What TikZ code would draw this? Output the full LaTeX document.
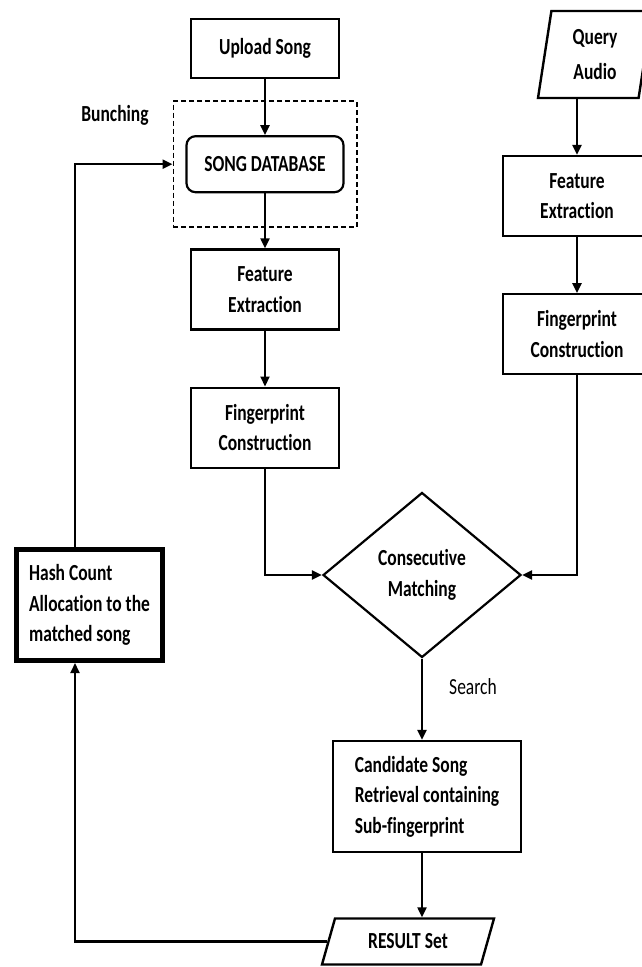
\documentclass[tikz,border=0pt]{standalone}
\usepackage{fontspec}
\setmainfont{Carlito}[FakeStretch=0.76, Ligatures=NoCommon]
\usetikzlibrary{arrows.meta, positioning, shapes.geometric, fit}

\newcommand{\dfont}{\fontsize{23}{30.5}\selectfont}

\begin{document}
\begin{tikzpicture}[x=1pt, y=-1pt, node distance=56pt and 40pt, font=\dfont\bfseries]
  \tikzset{
    pbox/.style={rectangle, draw=black, line width=2.2pt, fill=white,
                 minimum width=148pt, minimum height=80pt,
                 text centered, align=center},
    dbox/.style={rectangle, rounded corners=9pt, draw=black, line width=2.2pt,
                 minimum width=157pt, minimum height=56pt, align=center},
    iobox/.style={trapezium, trapezium stretches body, draw=black, line width=2.4pt,
                  fill=white, align=center, inner sep=2pt},
    hbox/.style={rectangle, draw=black, line width=5pt, fill=white,
                 minimum width=146pt, minimum height=111pt, align=left},
    mdec/.style={diamond, draw=black, line width=2.2pt, aspect=1.2,
                 minimum width=198pt, minimum height=165pt, inner sep=1pt, align=center},
    arr/.style={-{Triangle[length=10pt, width=9pt]}, line width=2.2pt}
  }
  \useasboundingbox (0,0) rectangle (642,967);
  \clip (0,0) rectangle (642,967);
  % Song side
  \node[pbox, minimum height=59pt] (up) at (265,48.5) {Upload Song};
  \node[dbox, below=56pt of up]    (db)  {SONG DATABASE};
  \node[draw=black, line width=1.8pt, dash pattern=on 5pt off 3pt,
        fit=(db), inner xsep=12pt, inner ysep=34pt] (bunch) {};
  \node (bunchlbl) at (115,115) {Bunching};
  \node[pbox, below=55pt of db]    (fe)  {Feature\\Extraction};
  \node[pbox, below=56pt of fe]    (ff)  {Fingerprint\\Construction};
  % Query side
  \node[iobox, trapezium left angle=76, trapezium right angle=104,
        minimum width=114pt, minimum height=87pt] (q) at (595,54.5) {Query\\[4pt]Audio};
  \node[pbox] (fr) at (577,196)    {Feature\\Extraction};
  \node[pbox, below=56pt of fr] (ffr) {Fingerprint\\Construction};
  % Matching and result
  \node[mdec] (match) at (422,575) {Consecutive\\Matching};
  \node[font=\dfont] (srch) at (473,687) {Search};
  \node[pbox, align=left, minimum width=188pt, minimum height=111pt] (cand) at (427,796.5)
       {Candidate Song\\Retrieval containing\\Sub-fingerprint};
  \node[iobox, trapezium left angle=56, trapezium right angle=124,
        minimum width=172pt, minimum height=46pt] (res) at (408,941.5) {RESULT Set};
  \node[hbox] (hash) at (89.5,605) {Hash Count\\Allocation to the\\matched song};
  \coordinate (lx) at (75,0);
  % Arrows
  \foreach \a/\b in {up/db,db/fe,fe/ff,fr/ffr}
    \draw[arr] (\a) -- (\b);
  \draw[arr] (fr.north |- q.south) -- (fr.north);
  \draw[arr] (ff.south) |- (match.west);
  \draw[arr] (ffr.south) |- (match.east);
  \draw[arr] (match.south) -- (match.south |- cand.north);
  \draw[arr] (match.south |- cand.south) -- (match.south |- res.north);
  % Feedback loop
  \draw[arr] (res.west) -| (lx |- hash.south);
  \draw[arr] (lx |- hash.north) |- (bunch.west);
\end{tikzpicture}
\end{document}
